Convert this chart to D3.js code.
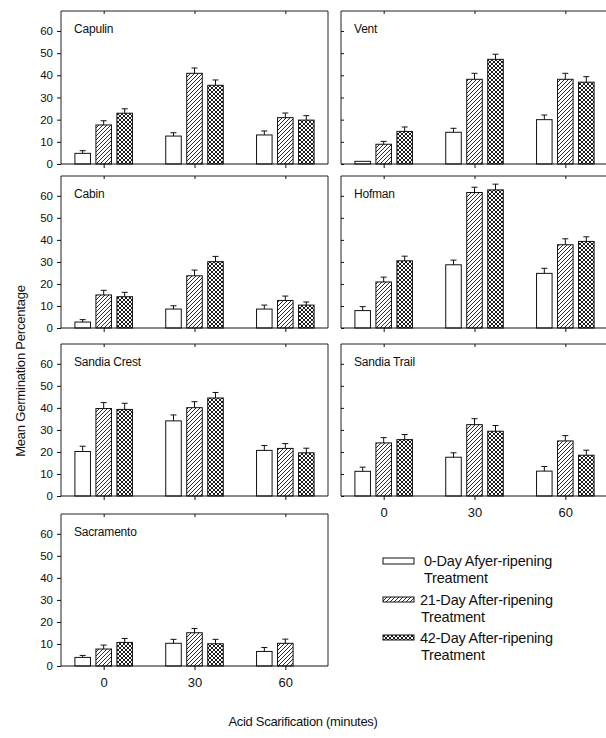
<!DOCTYPE html>
<html>
<head>
<meta charset="utf-8">
<script src="https://cdn.jsdelivr.net/npm/d3@7"></script>
<style>
  html, body { margin: 0; padding: 0; background: #fff; }
  svg { display: block; font-family: "Liberation Sans", Arial, sans-serif; }
</style>
</head>
<body>
<svg id="chart" width="606" height="738"></svg>
<script>
// ---------------- DATA ----------------
const sites = ["Capulin", "Vent", "Cabin", "Hofman", "Sandia Crest", "Sandia Trail", "Sacramento"];
const minutes = [0, 30, 60];
const seriesNames = ["0-Day", "21-Day", "42-Day"];
const yTicks = [0, 10, 20, 30, 40, 50, 60];

// means per site, per acid-scarification time [0, 30, 60]
const day0Mean = [[4.8, 12.6, 13.1], [1.2, 14.3, 20.0], [2.7, 8.6, 8.6], [7.9, 28.7, 24.8],
                  [20.2, 34.1, 20.7], [11.2, 17.6, 11.3], [3.9, 10.3, 6.6]];
const day21Mean = [[17.6, 40.9, 20.9], [8.9, 38.2, 38.2], [15.0, 23.7, 12.5], [20.9, 61.5, 37.8],
                   [39.7, 40.1, 21.6], [24.1, 32.4, 25.0], [7.7, 15.1, 10.3]];
const day42Mean = [[22.9, 35.5, 19.8], [14.7, 47.2, 36.9], [14.2, 30.1, 10.4], [30.5, 62.7, 39.3],
                   [39.3, 44.5, 19.6], [25.6, 29.4, 18.5], [10.7, 10.1, null]];
// standard errors (upper error bar)
const day0Err = [[1.2, 1.5, 1.8], [0, 1.8, 2.1], [1.1, 1.5, 1.8], [1.8, 2.1, 2.3],
                 [2.4, 2.7, 2.2], [1.9, 2.0, 2.1], [0.9, 1.8, 1.8]];
const day21Err = [[1.9, 2.4, 2.1], [1.3, 2.7, 2.7], [2.1, 2.6, 2.0], [2.2, 2.4, 2.7],
                  [2.7, 2.7, 2.2], [2.4, 2.7, 2.4], [1.8, 1.9, 1.9]];
const day42Err = [[2.0, 2.4, 2.0], [2.0, 2.3, 2.5], [2.0, 2.4, 1.4], [2.1, 2.6, 2.1],
                  [2.8, 2.5, 2.1], [2.3, 2.6, 2.3], [1.8, 2.0, null]];

const legendLines = [["0-Day Afyer-ripening", "Treatment"],
                     ["21-Day After-ripening", "Treatment"],
                     ["42-Day After-ripening", "Treatment"]];
const xTitle = "Acid Scarification (minutes)";
const yTitle = "Mean Germination Percentage";

// ---------------- LAYOUT ----------------
const svg = d3.select("#chart");
const ink = "#111";
const colX = [[61, 328], [341, 608]];
const rowY = [[11, 164], [176, 328], [344, 496], [514, 666]];
const yMax = 69;

// patterns
const defs = svg.append("defs");
const hatch = defs.append("pattern").attr("id", "hatch").attr("patternUnits", "userSpaceOnUse")
  .attr("width", 4).attr("height", 4);
hatch.append("rect").attr("width", 4).attr("height", 4).attr("fill", "#fff");
hatch.append("path").attr("d", "M-1,1 l2,-2 M0,4 l4,-4 M3,5 l2,-2")
  .attr("stroke", ink).attr("stroke-width", 0.9);
const cross = defs.append("pattern").attr("id", "cross").attr("patternUnits", "userSpaceOnUse")
  .attr("width", 4).attr("height", 4);
cross.append("rect").attr("width", 4).attr("height", 4).attr("fill", "#fff");
cross.append("path").attr("d", "M-1,1 l2,-2 M0,4 l4,-4 M3,5 l2,-2 M-1,3 l2,2 M0,0 l4,4 M3,-1 l2,2")
  .attr("stroke", ink).attr("stroke-width", 0.95);
const fills = ["#fff", "url(#hatch)", "url(#cross)"];

const means = [day0Mean, day21Mean, day42Mean];
const errs = [day0Err, day21Err, day42Err];

const inner = d3.scaleBand().domain(seriesNames).range([-31.5, 31.5])
  .paddingInner(0.26).paddingOuter(0.13);

sites.forEach((site, i) => {
  const col = i % 2, row = Math.floor(i / 2);
  const [x0, x1] = colX[col];
  const [yT, yB] = rowY[row];
  const x = d3.scalePoint().domain(minutes).range([x0, x1]).padding(0.47);
  const y = d3.scaleLinear().domain([0, yMax]).range([yB, yT]);
  const g = svg.append("g");

  // bars
  seriesNames.forEach((s, si) => {
    minutes.forEach((m, mi) => {
      const v = means[si][i][mi];
      if (v == null) return;
      const bx = x(m) + inner(s);
      const bw = inner.bandwidth();
      g.append("rect")
        .attr("x", bx).attr("y", y(v))
        .attr("width", bw).attr("height", y(0) - y(v))
        .attr("fill", fills[si]).attr("stroke", ink).attr("stroke-width", 1);
      const e = errs[si][i][mi];
      if (e) {
        const cx = bx + bw / 2;
        g.append("line").attr("x1", cx).attr("x2", cx)
          .attr("y1", y(v)).attr("y2", y(v + e)).attr("stroke", ink).attr("stroke-width", 1);
        g.append("line").attr("x1", cx - 3).attr("x2", cx + 3)
          .attr("y1", y(v + e)).attr("y2", y(v + e)).attr("stroke", ink).attr("stroke-width", 1);
      }
    });
  });

  // frame
  const frame = g.append("g").attr("stroke", "#222").attr("stroke-width", 1).attr("fill", "none");
  frame.append("line").attr("x1", x0).attr("x2", x1).attr("y1", yT).attr("y2", yT);
  frame.append("line").attr("x1", x0).attr("x2", x0).attr("y1", yT).attr("y2", yB);
  frame.append("line").attr("x1", x1).attr("x2", x1).attr("y1", yT).attr("y2", yB);

  // bottom axis
  const showX = (site === "Sandia Trail" || site === "Sacramento");
  const xAxis = d3.axisBottom(x).tickSize(4).tickSizeOuter(0).tickPadding(8)
    .tickFormat(showX ? d3.format("d") : "");
  const gx = g.append("g").attr("transform", `translate(0,${yB})`).call(xAxis);
  gx.select(".domain").attr("stroke", ink).attr("d", `M${x0},0H${x1}`);
  gx.selectAll(".tick line").attr("stroke", ink);
  gx.selectAll("text").attr("font-size", 13).attr("fill", ink)
    .attr("font-family", "'Liberation Sans', Arial, sans-serif");

  // top ticks (inward)
  const gt = g.append("g").attr("transform", `translate(0,${yT})`)
    .call(d3.axisTop(x).tickSize(-3).tickSizeOuter(0).tickFormat(""));
  gt.select(".domain").remove();
  gt.selectAll(".tick line").attr("stroke", ink);

  // left axis
  const yAxis = col === 0
    ? d3.axisLeft(y).tickValues(yTicks).tickSize(4).tickPadding(4).tickSizeOuter(0)
    : d3.axisLeft(y).tickValues(yTicks).tickSize(-3).tickSizeOuter(0).tickFormat("");
  const gy = g.append("g").attr("transform", `translate(${x0},0)`).call(yAxis);
  gy.select(".domain").remove();
  gy.selectAll(".tick line").attr("stroke", ink);
  gy.selectAll("text").attr("font-size", 11.5).attr("fill", ink)
    .attr("font-family", "'Liberation Sans', Arial, sans-serif");

  // panel label
  g.append("text").attr("x", x0 + 13).attr("y", yT + 22)
    .attr("font-size", 12).attr("letter-spacing", -0.2).attr("fill", ink).text(site);
});

// axis titles
svg.append("text").attr("transform", "translate(25,371) rotate(-90)")
  .attr("text-anchor", "middle").attr("font-size", 13).attr("letter-spacing", -0.2)
  .attr("fill", ink).text(yTitle);
svg.append("text").attr("x", 303).attr("y", 726)
  .attr("text-anchor", "middle").attr("font-size", 13).attr("letter-spacing", -0.3)
  .attr("fill", ink).text(xTitle);

// legend
const legY = d3.scaleOrdinal().domain(seriesNames).range([566, 605, 643]);
const legTextX = [424, 420, 420];
seriesNames.forEach((s, si) => {
  const by = legY(s);
  svg.append("rect").attr("x", 383).attr("y", by - 8).attr("width", 31).attr("height", si === 0 ? 6 : 5)
    .attr("fill", fills[si]).attr("stroke", ink).attr("stroke-width", 1);
  legendLines[si].forEach((t, li) => {
    svg.append("text").attr("x", legTextX[si] + (li === 1 && si > 0 ? 1 : 0)).attr("y", by + li * 17)
      .attr("font-size", 14.5).attr("letter-spacing", -0.2).attr("fill", ink).text(t);
  });
});
</script>
</body>
</html>
